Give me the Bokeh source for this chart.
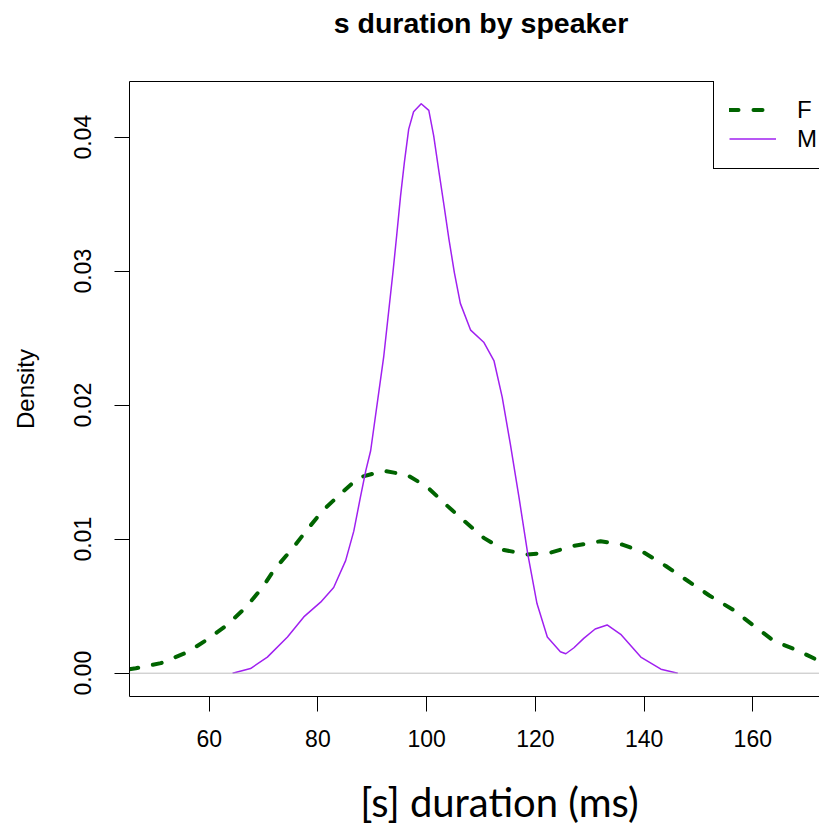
from bokeh.plotting import figure
from bokeh.models import (Range1d, FixedTicker, PrintfTickFormatter, LinearAxis,
                          Legend, LegendItem, Label, Span)
from bokeh.embed import file_html
from bokeh.resources import INLINE

# ---- data ----
F_x = [45.3, 46.5, 51.1, 56.0, 59.6, 63.3, 66.7, 69.8, 71.9, 75.3, 78.0, 80.8,
       84.2, 87.5, 92.1, 96.4, 100.1, 103.5, 106.8, 110.5, 114.2, 118.5, 122.8,
       127.0, 132.0, 136.0, 140.0, 144.0, 148.0, 152.0, 156.5, 160.0, 163.9,
       168.2, 172.3]
F_y = [0.0003, 0.00037, 0.00075, 0.00157, 0.0025, 0.0036, 0.0049, 0.0064,
       0.0077, 0.0093, 0.0107, 0.0121, 0.0134, 0.0146, 0.0151, 0.0148, 0.0139,
       0.0126, 0.0114, 0.0101, 0.0092, 0.00886, 0.0090, 0.0095, 0.00985, 0.0096,
       0.0090, 0.0080, 0.0069, 0.0058, 0.0047, 0.0036, 0.0024, 0.0017, 0.0009]

M_x = [64.3, 67.6, 70.7, 74.4, 77.4, 80.5, 82.9, 85.1, 86.6, 87.8, 88.8, 89.7,
       92.1, 93.8, 94.5, 95.2, 95.9, 96.7, 97.6, 99.0, 100.4, 101.3, 102.2,
       103.2, 104.1, 105.1, 106.2, 108.1, 110.5, 112.4, 113.9, 115.4, 117.0,
       118.6, 120.3, 122.2, 124.6, 125.6, 127.1, 128.9, 131.0, 133.2, 135.7,
       139.4, 143.1, 146.2]
M_y = [0.0, 0.00035, 0.0012, 0.0027, 0.0042, 0.0053, 0.0064, 0.0084, 0.0106,
       0.0131, 0.0151, 0.0166, 0.0236, 0.0299, 0.0327, 0.0356, 0.0381, 0.0406,
       0.0419, 0.0425, 0.0420, 0.0401, 0.0376, 0.0349, 0.0324, 0.0299, 0.0276,
       0.0256, 0.0247, 0.0233, 0.0206, 0.0171, 0.0131, 0.0089, 0.0052, 0.0027,
       0.0016, 0.00145, 0.0019, 0.0026, 0.0033, 0.0036, 0.0029, 0.0012, 0.0003,
       0.0]

x_ticks = [60, 80, 100, 120, 140, 160]
y_ticks = [0.00, 0.01, 0.02, 0.03, 0.04]
series_labels = ["F", "M"]
baseline = 0.0

title_text = "s duration by speaker"
x_label = "[s] duration (ms)"
y_label = "Density"

FONT = "Liberation Sans"

p = figure(width=819, height=825, output_backend="svg", toolbar_location=None,
           x_range=Range1d(45.34, 172.27), y_range=Range1d(-0.001739, 0.044157),
           min_border_left=129, min_border_right=0, min_border_top=81,
           min_border_bottom=129, background_fill_color="white",
           border_fill_color="white")
p.outline_line_color = None
p.xgrid.visible = False
p.ygrid.visible = False

for ax in (p.xaxis[0], p.yaxis[0]):
    ax.axis_line_color = "black"
    ax.axis_line_width = 1
    ax.major_tick_line_color = "black"
    ax.major_tick_out = 15
    ax.major_tick_in = 0
    ax.minor_tick_line_color = None
    ax.major_label_text_font = FONT
    ax.major_label_text_font_size = "23px"
    ax.major_label_text_color = "black"

p.xaxis.ticker = FixedTicker(ticks=x_ticks)
p.xaxis.major_label_standoff = 18
p.yaxis.ticker = FixedTicker(ticks=y_ticks)
p.yaxis.formatter = PrintfTickFormatter(format="%.2f")
p.yaxis.major_label_orientation = "vertical"
p.yaxis.major_label_standoff = 23
p.yaxis.axis_label = y_label
p.yaxis.axis_label_text_font = FONT
p.yaxis.axis_label_text_font_style = "normal"
p.yaxis.axis_label_text_font_size = "24px"
p.yaxis.axis_label_text_color = "black"
p.yaxis.axis_label_standoff = 33

top_axis = LinearAxis(axis_line_color="black", major_tick_line_color=None,
                      minor_tick_line_color=None, major_label_text_font_size="0px",
                      major_label_text_alpha=0)
p.add_layout(top_axis, "above")

p.add_layout(Label(x=480.5, y=22, x_units="canvas", y_units="canvas",
                   text=title_text, text_align="center",
                   text_baseline="middle", text_font=FONT,
                   text_font_style="bold", text_font_size="28.5px",
                   text_color="black"), "above")
p.add_layout(Label(x=499, y=801, x_units="canvas", y_units="canvas",
                   text=x_label, text_align="center",
                   text_baseline="middle", text_font="Lato",
                   text_font_size="40px", text_color="black"), "below")

p.add_layout(Span(location=baseline, dimension="width", line_color="#BEBEBE",
                  line_width=1))

rF = p.line(F_x, F_y, line_color="#006400", line_width=4, line_dash="9 15",
            line_cap="round", line_join="round")
rM = p.line(M_x, M_y, line_color="#A020F0", line_width=1.5, line_join="round")

legend = Legend(items=[LegendItem(label=series_labels[0], renderers=[rF]),
                       LegendItem(label=series_labels[1], renderers=[rM])],
                location=(584, 527), padding=15, spacing=0, margin=0,
                glyph_width=47, glyph_height=29, label_height=29,
                label_standoff=21, label_text_font=FONT,
                label_text_font_size="24px", label_text_color="black",
                border_line_color="black", border_line_width=1,
                border_line_alpha=1, background_fill_color="white",
                background_fill_alpha=1)
p.add_layout(legend)

open("out.html", "w").write(file_html(p, INLINE))
